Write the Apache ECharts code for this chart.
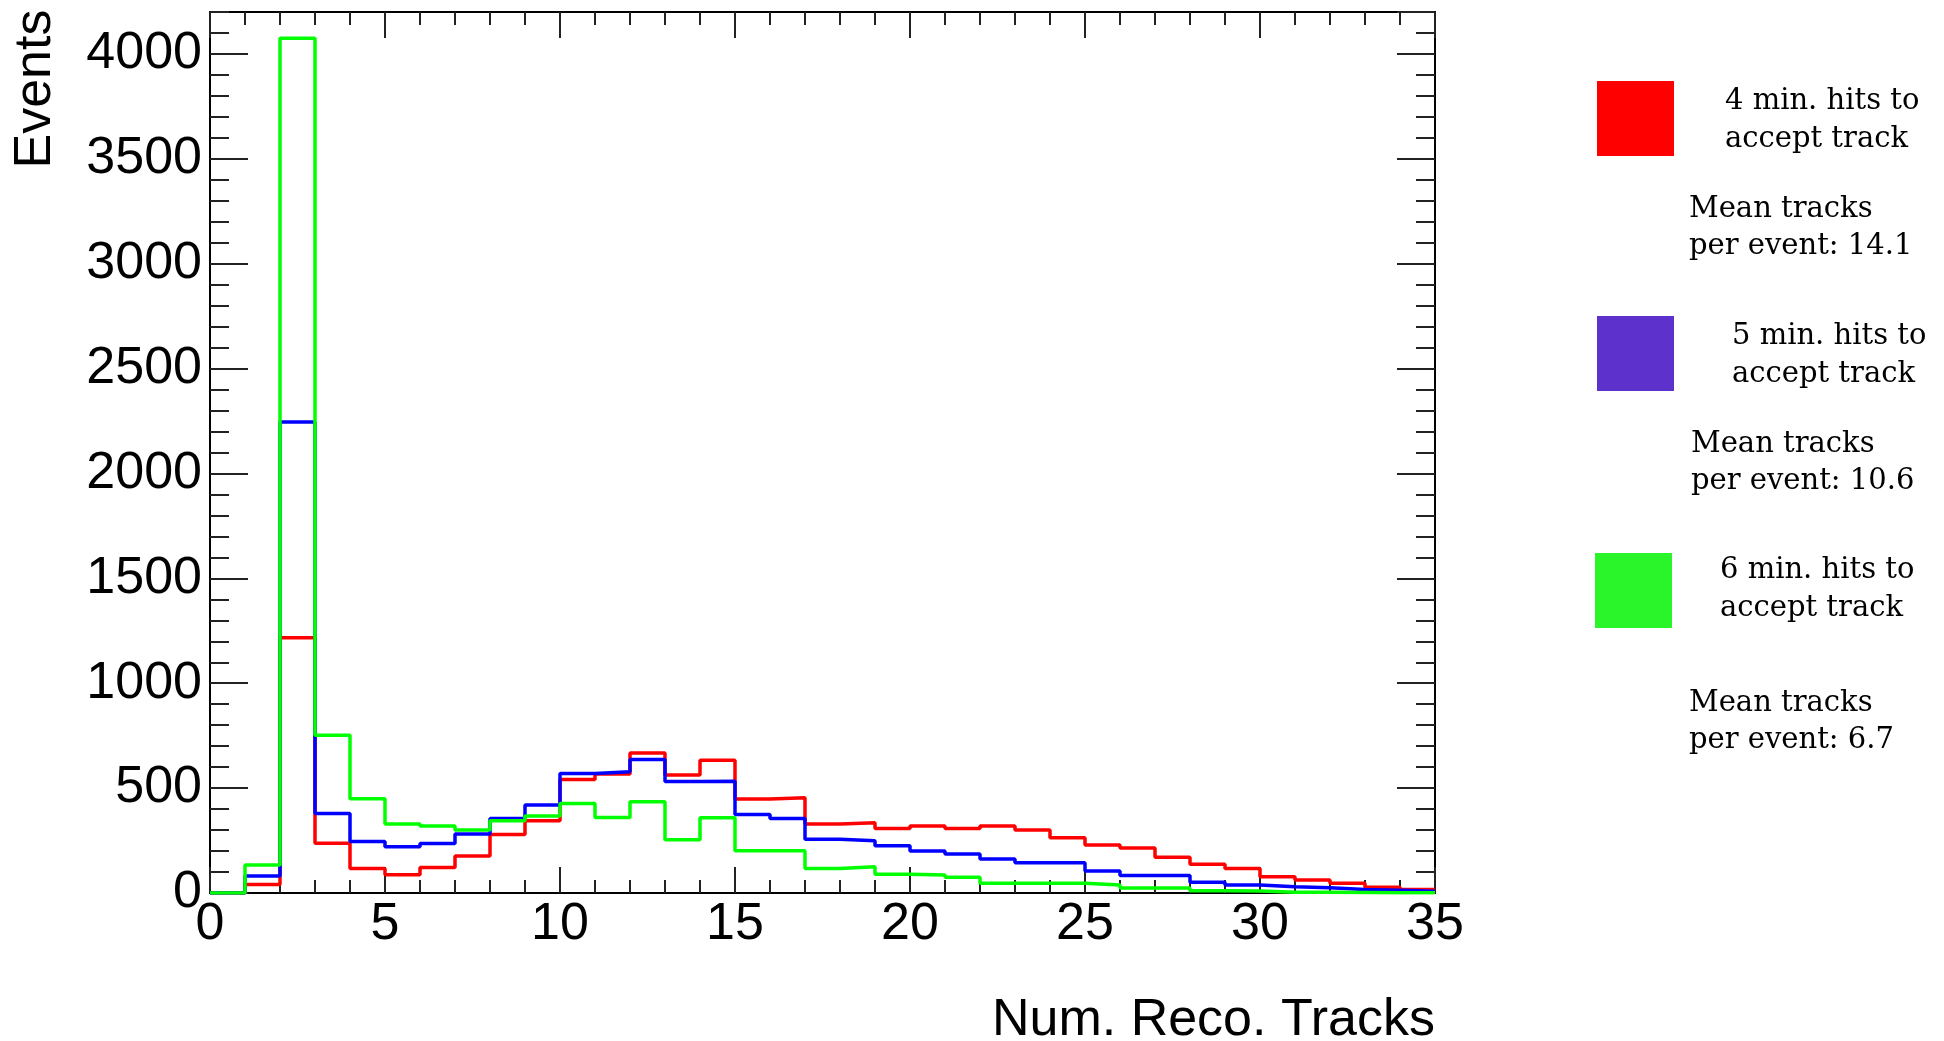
<!DOCTYPE html>
<html>
<head>
<meta charset="utf-8">
<title>Num. Reco. Tracks</title>
<script src="https://cdn.jsdelivr.net/npm/echarts@6/dist/echarts.min.js"></script>
<style>
  html, body { margin: 0; padding: 0; background: #fff; }
  #chart { width: 1944px; height: 1041px; }
</style>
</head>
<body>
<div id="chart"></div>
<script>
  // bin edges of the histogram (width 1)
  var binEdges = [0, 1, 2, 3, 4, 5, 6, 7, 8, 9, 10, 11, 12, 13, 14, 15, 16, 17, 18,
    19, 20, 21, 22, 23, 24, 25, 26, 27, 28, 29, 30, 31, 32, 33, 34, 35]

  // events per bin
  var hits4 = [0, 41, 1217, 237, 117, 87, 122, 176, 279, 344, 541, 567, 668, 562, 633, 448, 454,
    329, 335, 308, 319, 308, 319, 300, 263, 229, 214, 170, 137, 117, 78, 62, 46, 27, 17]
  var hits5 = [0, 81, 2245, 379, 245, 221, 236, 281, 355, 419, 570, 578, 636, 532, 533, 374, 355,
    256, 249, 225, 200, 186, 162, 144, 144, 105, 84, 83, 51, 38, 30, 25, 17, 13, 8]
  var hits6 = [0, 133, 4075, 752, 449, 329, 319, 300, 344, 367, 427, 360, 435, 254, 359, 202, 202,
    117, 125, 89, 86, 75, 46, 46, 46, 38, 24, 24, 11, 10, 3, 3, 2, 1, 1]

  var legendLabels = ['4 min. hits to', '5 min. hits to', '6 min. hits to']
  var meanTracks = ['14.1', '10.6', '6.7']

  var lineColors = ['#ff0000', '#0000ff', '#00ff00']
  var boxColors = ['#ff0000', '#5c31cc', '#2af52a']

  var labelFont = 'Liberation Sans, Arial, Helvetica, sans-serif'
  var serifFont = '29px "DejaVu Serif", serif'

  function toSteps(vals) {
    // histogram outline: each bin edge gets that bin's value, last edge repeats the last bin
    return binEdges.map(function (e, i) {
      return [e, vals[Math.min(i, vals.length - 1)]]
    })
  }

  function histSeries(name, vals, color) {
    return {
      name: name,
      type: 'line',
      step: 'end',
      xAxisIndex: 0,
      yAxisIndex: 0,
      symbol: 'none',
      data: toSteps(vals),
      lineStyle: { color: color, width: 3.5 },
      animation: false
    }
  }

  function yAxisDef(position, interval, tickLen, showLabel) {
    return {
      type: 'value',
      position: position,
      min: 0,
      max: 4200,
      interval: interval,
      axisLine: { show: true, onZero: false, lineStyle: { color: '#000', width: 2 } },
      axisTick: { show: true, inside: true, length: tickLen, lineStyle: { color: '#222', width: 2 } },
      axisLabel: {
        show: showLabel,
        showMaxLabel: false,
        margin: 8,
        color: '#000',
        fontSize: 52,
        fontFamily: labelFont,
        formatter: function (v) { return String(v) }
      },
      splitLine: { show: false }
    }
  }

  function xAxisDef(position, showLabel) {
    return {
      type: 'value',
      position: position,
      min: 0,
      max: 35,
      interval: 5,
      axisLine: { show: true, onZero: false, lineStyle: { color: '#000', width: 2 } },
      axisTick: { show: true, inside: true, length: 26, lineStyle: { color: '#222', width: 2 } },
      minorTick: { show: true, splitNumber: 5, length: 13, lineStyle: { color: '#222', width: 2 } },
      axisLabel: {
        show: showLabel,
        margin: 6,
        color: '#000',
        fontSize: 52,
        fontFamily: labelFont
      },
      splitLine: { show: false }
    }
  }

  var legendGraphics = []
  var boxX = [1597, 1597, 1595]
  var boxY = [81, 316, 553]
  var textX = [1725, 1732, 1720]
  var textY = [101, 336, 570]
  var meanX = [1689, 1691, 1689]
  var meanY = [209, 444, 703]
  legendLabels.forEach(function (lab, i) {
    legendGraphics.push({
      type: 'rect',
      shape: { x: boxX[i], y: boxY[i], width: 77, height: 75 },
      style: { fill: boxColors[i] }
    })
    legendGraphics.push({
      type: 'text',
      style: { text: lab, x: textX[i], y: textY[i], font: serifFont, fill: '#000', textAlign: 'left', textVerticalAlign: 'middle' }
    })
    legendGraphics.push({
      type: 'text',
      style: { text: 'accept track', x: textX[i], y: textY[i] + 38, font: serifFont, fill: '#000', textAlign: 'left', textVerticalAlign: 'middle' }
    })
    legendGraphics.push({
      type: 'text',
      style: { text: 'Mean tracks', x: meanX[i], y: meanY[i], font: serifFont, fill: '#000', textAlign: 'left', textVerticalAlign: 'middle' }
    })
    legendGraphics.push({
      type: 'text',
      style: { text: 'per event: ' + meanTracks[i], x: meanX[i], y: meanY[i] + 37, font: serifFont, fill: '#000', textAlign: 'left', textVerticalAlign: 'middle' }
    })
  })

  var chart = echarts.init(document.getElementById('chart'))
  chart.setOption({
    backgroundColor: '#fff',
    animation: false,
    grid: {
      left: 210,
      top: 12,
      right: 509,
      bottom: 148
    },
    xAxis: [
      xAxisDef('bottom', true),
      xAxisDef('top', false)
    ],
    yAxis: [
      yAxisDef('left', 500, 38, true),
      yAxisDef('left', 100, 19, false),
      yAxisDef('right', 500, 38, false),
      yAxisDef('right', 100, 19, false)
    ],
    graphic: [
      {
        type: 'text',
        x: 36,
        y: 89,
        rotation: Math.PI / 2,
        style: { text: 'Events', x: 0, y: 0, font: '52px ' + labelFont, fill: '#000', textAlign: 'center', textVerticalAlign: 'middle' }
      },
      {
        type: 'text',
        style: { text: 'Num. Reco. Tracks', x: 1435, y: 1021, font: '52px ' + labelFont, fill: '#000', textAlign: 'right', textVerticalAlign: 'middle' }
      }
    ].concat(legendGraphics),
    series: [
      histSeries('4 min. hits', hits4, lineColors[0]),
      histSeries('5 min. hits', hits5, lineColors[1]),
      histSeries('6 min. hits', hits6, lineColors[2])
    ]
  })
</script>
</body>
</html>
